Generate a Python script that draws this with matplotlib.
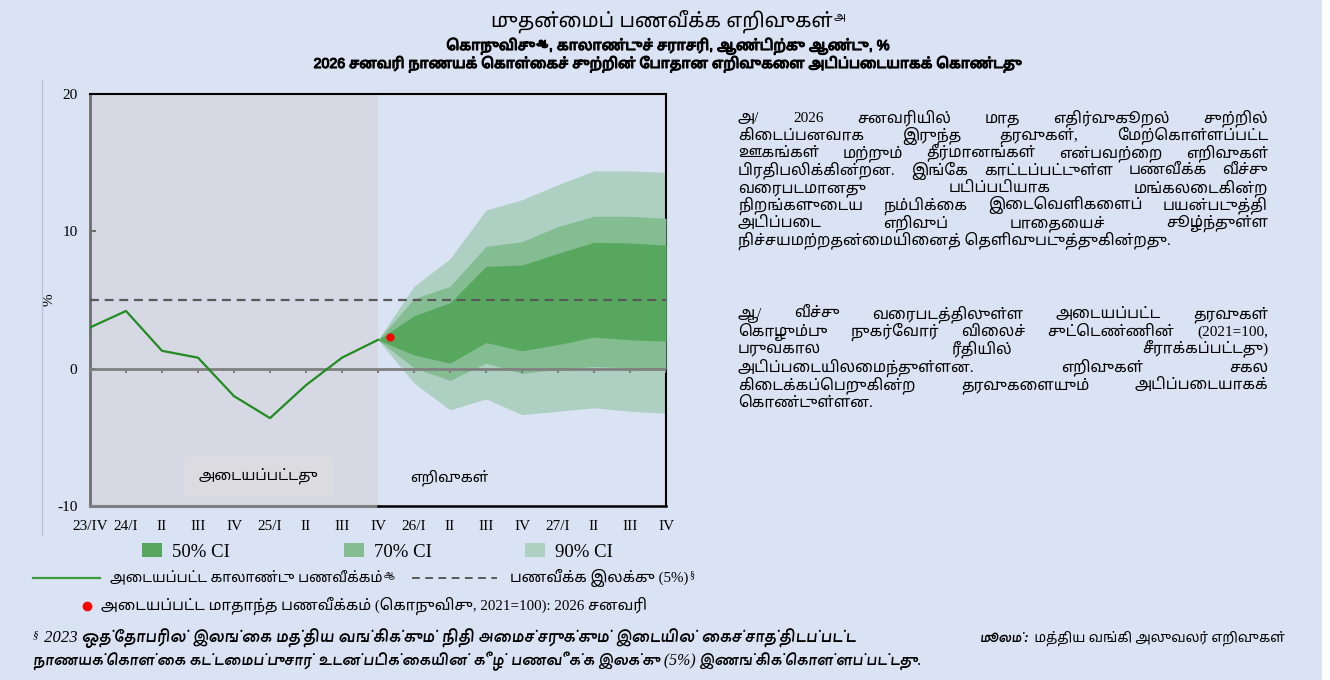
import matplotlib
matplotlib.use('Agg')
import matplotlib.pyplot as plt
import matplotlib.patheffects as pe
from matplotlib.patches import Rectangle
from matplotlib.lines import Line2D

W, H = 1330, 680

# ---- data ----
quarters = ['23/IV', '24/I', 'II', 'III', 'IV', '25/I', 'II', 'III', 'IV',
            '26/I', 'II', 'III', 'IV', '27/I', 'II', 'III', 'IV']
actual = [3.0, 4.2, 1.3, 0.8, -2.0, -3.6, -1.2, 0.8, 2.1]
fan_from = 8  # 25/IV, projections start here
ci90_low = [2.1, -1.05, -3.0, -2.2, -3.35, -3.1, -2.85, -3.1, -3.25]
ci70_low = [2.1, 0.05, -0.85, 0.4, -0.35, -0.05, 0.15, 0.05, -0.05]
ci50_low = [2.1, 1.0, 0.4, 1.9, 1.3, 1.75, 2.3, 2.1, 2.0]
ci50_high = [2.1, 3.85, 4.8, 7.45, 7.55, 8.4, 9.2, 9.15, 9.0]
ci70_high = [2.1, 5.1, 6.0, 8.9, 9.25, 10.35, 11.1, 11.1, 10.95]
ci90_high = [2.1, 6.0, 8.0, 11.55, 12.3, 13.4, 14.4, 14.4, 14.3]
jan26_pos = 8 + 1 / 3
jan26_val = 2.3
target = 5

BG = '#dae3f3'
HIST = '#d6d9e3'
BOX = '#dcdce0'
C50, C70, C90 = '#57a85e', '#85bd93', '#aed0c3'
LINE = '#228b22'

SERIF = ['Liberation Serif', 'Noto Sans Tamil', 'DejaVu Sans']
SANS = ['Liberation Sans', 'Noto Sans Tamil', 'DejaVu Sans']
ITAL = ['Liberation Serif', 'Karla Tamil Inclined', 'DejaVu Sans']
HEAVY = [pe.withStroke(linewidth=0.8, foreground='black')]

# matplotlib does no complex shaping: put pre-base vowel signs before the consonant
SPLIT = {'\u0bca': ('\u0bc6', '\u0bbe'), '\u0bcb': ('\u0bc7', '\u0bbe'),
         '\u0bcc': ('\u0bc6', '\u0bd7')}
PRE = ('\u0bc6', '\u0bc7', '\u0bc8')


def vis(s):
    out = []
    for ch in s:
        if ch in SPLIT and out:
            base = out.pop()
            out += [SPLIT[ch][0], base, SPLIT[ch][1]]
        elif ch in PRE and out:
            base = out.pop()
            out += [ch, base]
        else:
            out.append(ch)
    return ''.join(out)


plt.rcParams['axes.unicode_minus'] = False
fig = plt.figure(figsize=(W / 100, H / 100), dpi=100)
fig.patch.set_facecolor(BG)
R = fig.canvas.get_renderer()


def fx(x):
    return x / W


def fy(y):
    return 1 - y / H


def runs(x, y, parts, ha='left', family=SERIF, width=None, **kw):
    """parts: (text, size, rise_px, extra kwargs); y is the baseline in px"""
    arts = []
    for txt, size, rise, extra in parts:
        opts = dict(kw)
        opts.update(extra)
        opts.setdefault('family', family)
        t = fig.text(0, 0, vis(txt), fontsize=size, va='baseline', **opts)
        arts.append([t, rise])
    ws = [t.get_window_extent(R).width for t, _ in arts]
    if width:
        k = width / (sum(ws) + len(ws) - 1)
        for t, _ in arts:
            t.set_fontsize(t.get_fontsize() * k)
        ws = [t.get_window_extent(R).width for t, _ in arts]
    total = sum(ws) + len(ws) - 1
    if ha == 'center':
        x -= total / 2
    for (t, rise), w in zip(arts, ws):
        t.set_position((fx(x), fy(y - rise)))
        x += w + 1


def justify(lines, x0, x1, y0, dy, size, family=SERIF):
    for i, line in enumerate(lines):
        y = y0 + i * dy
        words = line.split()
        if i == len(lines) - 1:
            fig.text(fx(x0), fy(y), vis(line), fontsize=size, va='baseline',
                     family=family)
            continue
        ts = [fig.text(0, fy(y), vis(w), fontsize=size, va='baseline',
                       family=family) for w in words]
        ws = [t.get_window_extent(R).width for t in ts]
        gap = (x1 - x0 - sum(ws)) / (len(words) - 1)
        x = x0
        for t, w in zip(ts, ws):
            t.set_x(fx(x))
            x += w + gap


# ---- chart ----
ax = fig.add_axes([fx(90), fy(506), 576 / W, 412 / H])
ax.set_facecolor(BG)
n = len(quarters)
ax.set_xlim(0, n - 1)
ax.set_ylim(-10, 20)
ax.axvspan(0, fan_from, color=HIST, lw=0, zorder=0)
ax.add_patch(Rectangle((95 / 576, 9 / 412), 148 / 576, 40 / 412,
                       transform=ax.transAxes, fc=BOX, ec='none', zorder=1))
ax.text(0.293, 0.07, vis('அடையப்பட்டது'), transform=ax.transAxes,
        ha='center', va='center', fontsize=10.5, family=SERIF, zorder=2)
ax.text(0.623, 0.068, vis('எறிவுகள்'), transform=ax.transAxes,
        ha='center', va='center', fontsize=10.5, family=SERIF, zorder=2)

fan_x = list(range(fan_from, n))
ax.fill_between(fan_x, ci90_low, ci90_high, color=C90, lw=0, zorder=2)
ax.fill_between(fan_x, ci70_low, ci70_high, color=C70, lw=0, zorder=3)
ax.fill_between(fan_x, ci50_low, ci50_high, color=C50, lw=0, zorder=4)

ax.axhline(0, color='#808080', lw=2, zorder=5)
ax.vlines(range(n), -0.3, 0, color='#808080', lw=1.5, zorder=5)
ax.axhline(target, color='#595959', lw=1.6, ls=(0, (4, 2.6)), zorder=6)
ax.plot(range(len(actual)), actual, color=LINE, lw=1.6, zorder=7)
ax.plot(jan26_pos, jan26_val, 'o', color='red', ms=6, mec='none', zorder=8)

for s in ('top', 'right'):
    ax.spines[s].set_color('black')
    ax.spines[s].set_linewidth(1.5)
ax.spines['left'].set_color('#6e6e6e')
ax.spines['left'].set_linewidth(2)
ax.spines['bottom'].set_visible(False)
split = fan_from / (n - 1)
ax.axhline(-10, xmax=split, color='#7f7f7f', lw=2.2, clip_on=False, zorder=9)
ax.axhline(-10, xmin=split, color='black', lw=1.8, clip_on=False, zorder=9)

ax.set_yticks([-10, 0, 10, 20])
ax.tick_params(axis='y', direction='in', length=4, width=1.5, color='#6e6e6e',
               pad=9, labelsize=11)
ax.set_xticks(range(n), quarters)
ax.tick_params(axis='x', length=0, pad=10, labelsize=11)
for lab in ax.get_xticklabels() + ax.get_yticklabels():
    lab.set_family(SERIF)
ax.set_ylabel('%', fontsize=11, family=SERIF)
ax.yaxis.set_label_coords(-(90 - 55) / 576, 0.5)

fig.add_artist(Line2D([fx(42), fx(42)], [fy(80), fy(535)], color='#b4c0d8', lw=0.8))
fig.add_artist(Rectangle((fx(1322), 0), 8 / W, 1, transform=fig.transFigure,
                         fc='white', ec='none'))

# ---- titles ----
runs(668, 27, [('முதன்மைப் பணவீக்க எறிவுகள்', 15, 0, {}),
               ('அ', 8, 7, {})], ha='center', family=SANS, width=355)
runs(668, 50, [('கொநுவிசு', 10, 0, {}), ('ஆ', 6, 5, {}),
               (', காலாண்டுச் சராசரி, ஆண்டிற்கு ஆண்டு, %', 10, 0, {})],
     ha='center', family=SANS, width=443, path_effects=HEAVY)
runs(668, 68, [('2026 சனவரி நாணயக் கொள்கைச் சுற்றின் போதான எறிவுகளை அடிப்படையாகக் கொண்டது', 10, 0, {})],
     ha='center', family=SANS, width=709, path_effects=HEAVY)

# ---- legend ----
for x0, c, lab in [(142, C50, '50% CI'), (344, C70, '70% CI'), (525, C90, '90% CI')]:
    fig.add_artist(Rectangle((fx(x0), fy(557)), 20 / W, 14 / H,
                             transform=fig.transFigure, fc=c, ec='none'))
    fig.text(fx(x0 + 30), fy(557), lab, fontsize=13.5, family=SERIF, va='baseline')
fig.add_artist(Line2D([fx(33), fx(100)], [fy(578), fy(578)], color='#3c9c3c', lw=1.6))
runs(110, 582, [('அடையப்பட்ட காலாண்டு பணவீக்கம்', 10.5, 0, {}), ('ஆ', 6, 5, {})],
     width=285)
fig.add_artist(Line2D([fx(412), fx(497)], [fy(578), fy(578)], color='#595959',
                      lw=1.4, ls=(0, (4, 2.8))))
runs(510, 582, [('பணவீக்க இலக்கு (5%)', 10.5, 0, {}), ('§', 7, 5, {})], width=185)
fig.add_artist(Line2D([fx(87)], [fy(606)], marker='o', color='red', ms=7, mec='none'))
runs(101, 610, [('அடையப்பட்ட மாதாந்த பணவீக்கம் (கொநுவிசு, 2021=100): 2026 சனவரி', 10.5, 0, {})],
     width=547)

# ---- notes on the right ----
para1 = ['அ/ 2026 சனவரியில் மாத எதிர்வுகூறல் சுற்றில்',
         'கிடைப்பனவாக இருந்த தரவுகள், மேற்கொள்ளப்பட்ட',
         'ஊகங்கள் மற்றும் தீர்மானங்கள் என்பவற்றை எறிவுகள்',
         'பிரதிபலிக்கின்றன. இங்கே காட்டப்பட்டுள்ள பணவீக்க வீச்சு',
         'வரைபடமானது படிப்படியாக மங்கலடைகின்ற',
         'நிறங்களுடைய நம்பிக்கை இடைவெளிகளைப் பயன்படுத்தி',
         'அடிப்படை எறிவுப் பாதையைச் சூழ்ந்துள்ள',
         'நிச்சயமற்றதன்மையினைத் தெளிவுபடுத்துகின்றது.']
para2 = ['ஆ/ வீச்சு வரைபடத்திலுள்ள அடையப்பட்ட தரவுகள்',
         'கொழும்பு நுகர்வோர் விலைச் சுட்டெண்ணின் (2021=100,',
         'பருவகால ரீதியில் சீராக்கப்பட்டது)',
         'அடிப்படையிலமைந்துள்ளன. எறிவுகள் சகல',
         'கிடைக்கப்பெறுகின்ற தரவுகளையும் அடிப்படையாகக்',
         'கொண்டுள்ளன.']
justify(para1, 738, 1268, 122, 17.5, 11)
justify(para2, 738, 1268, 318, 17.8, 11)

# ---- footnote ----
runs(33, 642, [('§', 7, 5, {}), (' 2023 ஒத்தோபரில் இலங்கை மத்திய வங்கிக்கும் நிதி அமைச்சருக்கும் இடையில் கைச்சாத்திடப்பட்ட', 10.5, 0, {})],
     family=ITAL, style='italic', width=822)
runs(33, 665, [('நாணயக்கொள்கை கட்டமைப்புசார் உடன்படிக்கையின் கீழ் பணவீக்க இலக்கு (5%) இணங்கிக்கொள்ளப்பட்டது.', 10.5, 0, {})],
     family=ITAL, style='italic', width=892)
runs(980, 642, [('மூலம்:', 10.5, 0, {'weight': 'bold', 'family': ITAL, 'style': 'italic'}),
                (' மத்திய வங்கி அலுவலர் எறிவுகள்', 10.5, 0, {})], width=305)

fig.savefig('out.png', dpi=100, facecolor=BG)
